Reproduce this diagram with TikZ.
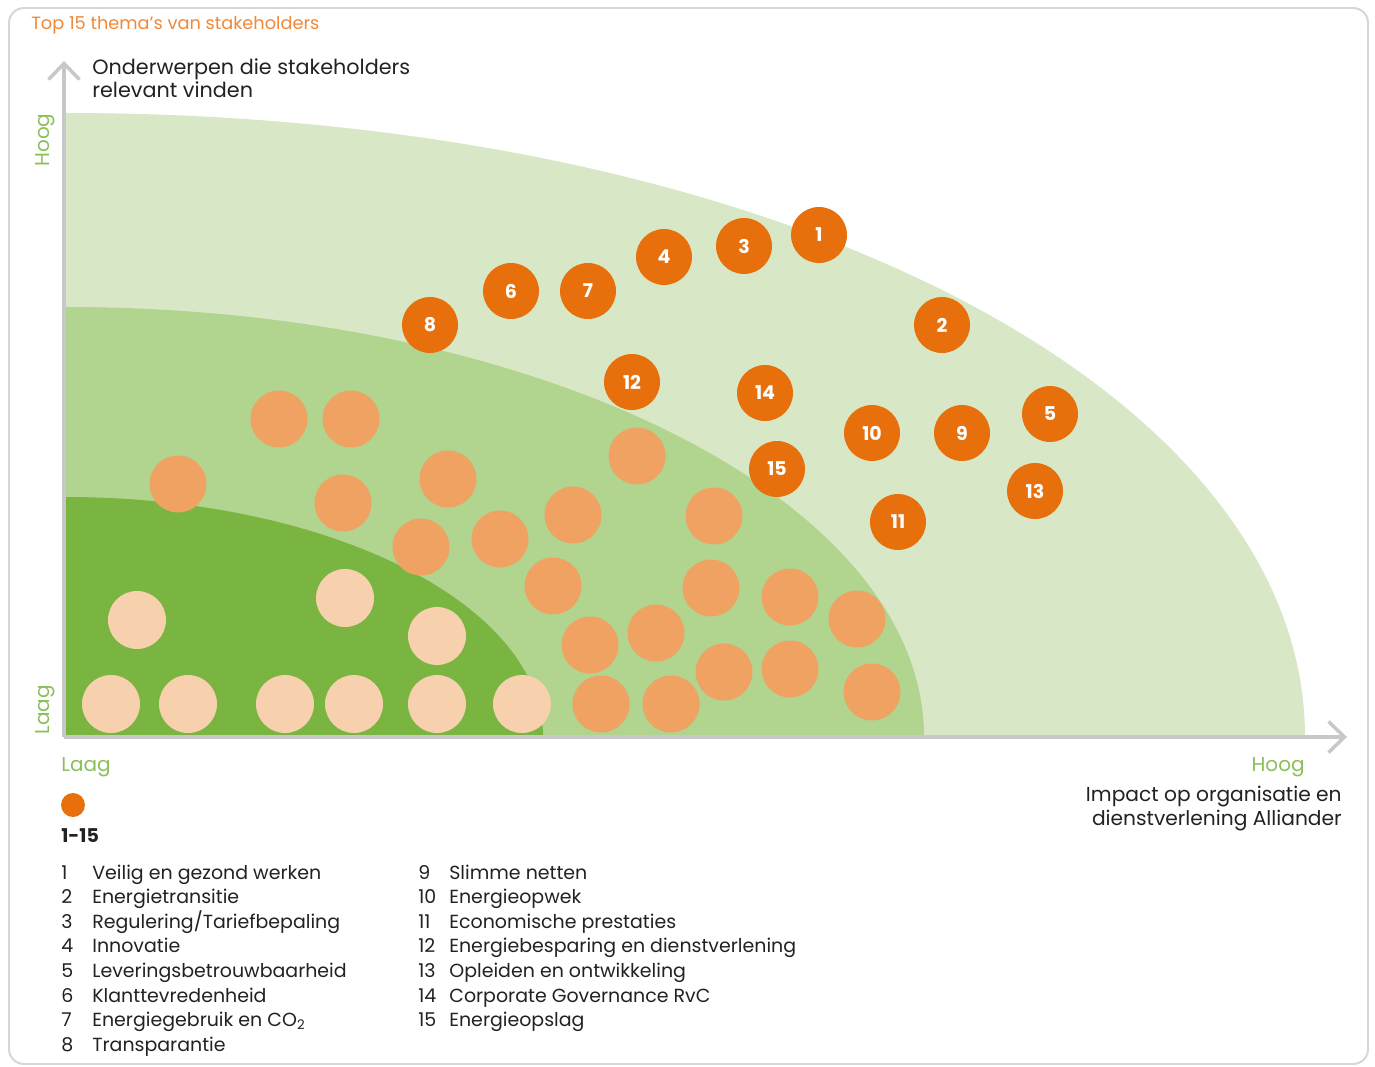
\documentclass[tikz,border=0pt]{standalone}
\usepackage{fontspec}
\setmainfont{Poppins}
\usetikzlibrary{arrows.meta}
\definecolor{gA}{HTML}{D8E8C6}
\definecolor{gB}{HTML}{B1D48F}
\definecolor{gC}{HTML}{7BB541}
\definecolor{dor}{HTML}{E8700C}
\definecolor{mor}{HTML}{EFA262}
\definecolor{lor}{HTML}{F7D0AD}
\definecolor{axg}{HTML}{C8C8C8}
\definecolor{frm}{HTML}{D6D6D6}
\definecolor{lblg}{HTML}{8CBF5A}
\definecolor{ttl}{HTML}{F0883A}
\definecolor{txt}{HTML}{222222}
\begin{document}
\begin{tikzpicture}[x=0.02cm,y=-0.02cm,
  dot/.style={circle,inner sep=0pt,minimum size=1.12cm},
  num/.style={dot,fill=dor,text=white,font=\fontsize{10.8}{12}\selectfont\bfseries},
  mid/.style={dot,fill=mor,minimum size=1.14cm},
  low/.style={dot,fill=lor,minimum size=1.16cm},
  axisline/.style={draw=axg,line width=2pt,-{Straight Barb[length=0.32cm,width=0.62cm]}},
  lbl/.style={inner sep=0pt,anchor=base west,text=txt,font=\fontsize{11.8}{14}\selectfont},
  lblr/.style={lbl,anchor=base east,font=\fontsize{11.5}{14}\selectfont},
  leg/.style={inner sep=0pt,anchor=base west,text=txt,font=\fontsize{10.8}{13}\selectfont},
  grn/.style={inner sep=0pt,text=lblg,font=\fontsize{11.4}{13}\selectfont},
]
\useasboundingbox (0,0) rectangle (1375,1067);
\fill[white] (0,0) rectangle (1375,1067);
\draw[frm,line width=1.1pt,rounded corners=0.3cm] (9,8) rectangle (1368,1064);

% zones
\fill[gA] (65,737) -- (65,113) .. controls (784,113) and (1305,394) .. (1305,737) -- cycle;
\fill[gB] (65,737) -- (65,307) .. controls (539,307) and (924,500) .. (924,737) -- cycle;
\fill[gC] (65,737) -- (65,497) .. controls (329,497) and (543,604) .. (543,737) -- cycle;

% axes
\coordinate (O) at (64,737);
\coordinate (Ytop) at (64,61);
\coordinate (Xend) at (1347,737);
\draw[axisline] (O) -- (Ytop);
\draw[axisline] (O) -- (Xend);

% title and axis texts
\node[inner sep=0pt,anchor=base west,text=ttl,font=\fontsize{10.1}{12}\selectfont] (title) at (31,30) {Top 15 thema's van stakeholders};
\node[lbl] (yl1) at (92,75) {Onderwerpen die stakeholders};
\node[lbl] (yl2) at (92,98) {relevant vinden};
\node[lblr] (xl1) at (1342,801) {Impact op organisatie en};
\node[lblr] (xl2) at (1342,825) {dienstverlening Alliander};
\node[grn,rotate=90,anchor=base] (yhoog) at (49,140) {Hoog};
\node[grn,rotate=90,anchor=base] (ylaag) at (49,710) {Laag};
\node[grn,anchor=base west] (xlaag) at (61,771) {Laag};
\node[grn,anchor=base east] (xhoog) at (1305,771) {Hoog};

% light circles
\foreach \x/\y [count=\i] in {137/620,345/598,437/636,111/704,188/704,285/704,354/704,437/704,522/704}
  \node[low] (l\i) at (\x,\y) {};
% medium circles
\foreach \x/\y [count=\i] in {279/419,351/419,178/484,343/503,448/479,421/547,500/539,573/515,637/456,714/516,553/586,711/588,790/597,857/619,590/645,656/633,724/672,790/669,601/704,671/704,872/692}
  \node[mid] (m\i) at (\x,\y) {};
% numbered circles
\foreach \x/\y/\n in {819/235/1,942/325/2,744/246/3,664/257/4,1050/414/5,511/291/6,588/291/7,430/325/8,962/433/9,872/433/10,898/522/11,632/382/12,1035/491/13,765/393/14,777/469/15}
  \node[num] (c\n) at (\x,\y) {\n};

% legend
\node[dot,fill=dor,minimum size=0.48cm] (legdot) at (73,805) {};
\node[leg,font=\fontsize{10.8}{13}\selectfont\bfseries] (legrange) at (61,842) {1-15};
\foreach \t [count=\i] in {Veilig en gezond werken,Energietransitie,Regulering/Tariefbepaling,Innovatie,Leveringsbetrouwbaarheid,Klanttevredenheid,{Energiegebruik en CO\textsubscript{2}},Transparantie}{
  \node[leg] (ln\i) at (61,{879+24.6*(\i-1)}) {\i};
  \node[leg] (lt\i) at (92,{879+24.6*(\i-1)}) {\t};
}
\foreach \t [count=\i from 9] in {Slimme netten,Energieopwek,Economische prestaties,Energiebesparing en dienstverlening,Opleiden en ontwikkeling,Corporate Governance RvC,Energieopslag}{
  \node[leg] (ln\i) at (418,{879+24.6*(\i-9)}) {\i};
  \node[leg] (lt\i) at (449,{879+24.6*(\i-9)}) {\t};
}
\end{tikzpicture}
\end{document}
